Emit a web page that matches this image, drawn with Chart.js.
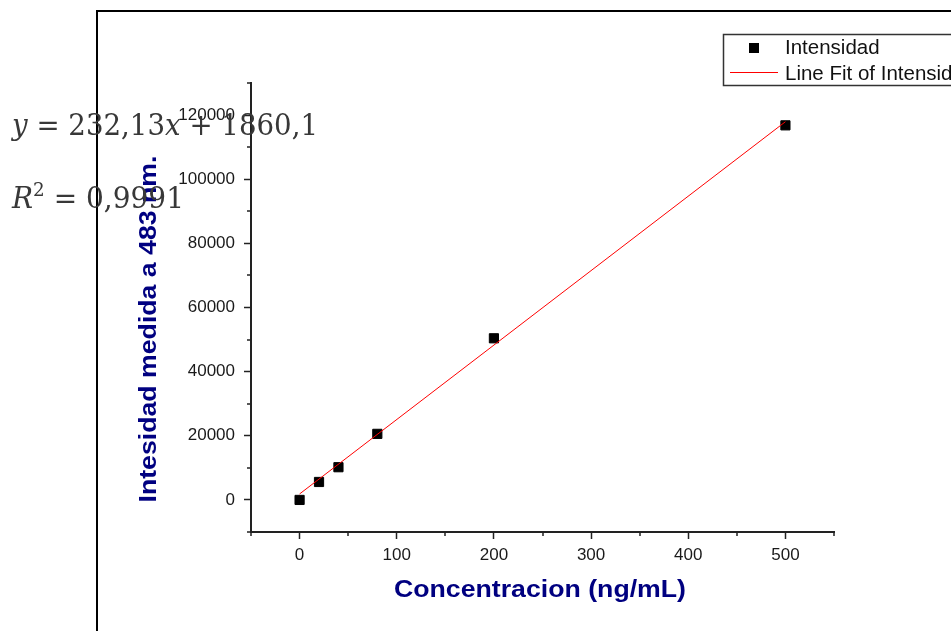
<!DOCTYPE html>
<html>
<head>
<meta charset="utf-8">
<script src="https://cdn.jsdelivr.net/npm/chart.js@4.4.1/dist/chart.umd.min.js"></script>
<style>
  body { margin: 0; background: #fff; }
  #wrap { width: 951px; height: 631px; }
</style>
</head>
<body>
<div id="wrap"><canvas id="curvaChart"></canvas></div>
<script>
// curva de calibracion
const concentracion = [0, 20, 40, 80, 200, 500];
const intensidad = [0, 5600, 10200, 20600, 50400, 116800];

// recta de ajuste (extremos)
const ajusteX = [0, 500];
const ajusteY = [1860, 117925];

const xTicks = [0, 100, 200, 300, 400, 500];
const xTickLabels = ["0", "100", "200", "300", "400", "500"];
const xMinor = [-50, 50, 150, 250, 350, 450, 550];

const yTicks = [0, 20000, 40000, 60000, 80000, 100000, 120000];
const yTickLabels = ["0", "20000", "40000", "60000", "80000", "100000", "120000"];
const yMinor = [-10000, 10000, 30000, 50000, 70000, 90000, 110000, 130000];

const xTitle = "Concentracion (ng/mL)";
const yTitle = "Intesidad medida a 483 nm.";
const legendLabels = ["Intensidad", "Line Fit of Intensidad"];

const ecuacion1 = [["y", "i"], [" = 232,13", "n"], ["x", "i"], [" + 1860,1", "n"]];
const ecuacion2 = [["R", "i"], ["2", "s"], [" = 0,9991", "n"]];

const sans = "'Liberation Sans', Arial, sans-serif";
const serif = "'DejaVu Serif', 'Liberation Serif', serif";

// marco, ticks menores, titulos, leyenda y ecuacion
const extras = {
  id: "extras",
  beforeDraw(chart) {
    const ctx = chart.ctx;
    ctx.save();
    ctx.strokeStyle = "#000";
    ctx.lineWidth = 2;
    ctx.beginPath();
    ctx.moveTo(97, 631);
    ctx.lineTo(97, 11);
    ctx.lineTo(951, 11);
    ctx.stroke();
    ctx.restore();
  },
  afterDraw(chart) {
    const ctx = chart.ctx;
    const xs = chart.scales.x;
    const ys = chart.scales.y;
    const area = chart.chartArea;

    ctx.save();
    ctx.strokeStyle = "#222";
    ctx.lineWidth = 1.5;
    ctx.beginPath();
    xMinor.forEach((v) => {
      const px = Math.round(xs.getPixelForValue(v));
      ctx.moveTo(px, area.bottom);
      ctx.lineTo(px, area.bottom + 4);
    });
    yMinor.forEach((v) => {
      const py = Math.round(ys.getPixelForValue(v));
      ctx.moveTo(area.left, py);
      ctx.lineTo(area.left - 4, py);
    });
    ctx.stroke();

    // titulos de ejes
    ctx.fillStyle = "#000080";
    ctx.font = "bold 23px " + sans;
    ctx.textAlign = "center";
    ctx.textBaseline = "alphabetic";
    ctx.save();
    ctx.translate(540, 597);
    ctx.scale(1.16, 1);
    ctx.fillText(xTitle, 0, 0);
    ctx.restore();
    ctx.save();
    ctx.translate(156, 329);
    ctx.rotate(-Math.PI / 2);
    ctx.scale(1.16, 1);
    ctx.fillText(yTitle, 0, 0);
    ctx.restore();

    // leyenda
    ctx.fillStyle = "#fff";
    ctx.fillRect(723, 34, 240, 51);
    ctx.strokeStyle = "#333";
    ctx.lineWidth = 1.5;
    ctx.strokeRect(723.5, 34.5, 240, 51);
    const ds = chart.data.datasets;
    ctx.fillStyle = ds[0].backgroundColor;
    ctx.fillRect(749, 43, 10, 10);
    ctx.strokeStyle = ds[1].borderColor;
    ctx.lineWidth = 1;
    ctx.beginPath();
    ctx.moveTo(730, 72.5);
    ctx.lineTo(778, 72.5);
    ctx.stroke();
    ctx.fillStyle = "#111";
    ctx.font = "20.5px " + sans;
    ctx.textAlign = "left";
    ctx.fillText(ds[0].label, 785, 54);
    ctx.fillText(ds[1].label, 785, 80);

    // ecuacion del ajuste
    const dibujarEcuacion = (partes, x0, base, ancho) => {
      const fuente = (t) =>
        t === "i" ? "italic 29px " + serif : t === "s" ? "19px " + serif : "29px " + serif;
      let total = 0;
      partes.forEach(([txt, t]) => {
        ctx.font = fuente(t);
        total += ctx.measureText(txt).width;
      });
      ctx.save();
      ctx.translate(x0, base);
      ctx.scale(ancho / total, 1);
      let cx = 0;
      partes.forEach(([txt, t]) => {
        ctx.font = fuente(t);
        ctx.fillText(txt, cx, t === "s" ? -12 : 0);
        cx += ctx.measureText(txt).width;
      });
      ctx.restore();
    };
    ctx.fillStyle = "#383838";
    dibujarEcuacion(ecuacion1, 12, 135, 306);
    dibujarEcuacion(ecuacion2, 12, 208, 172);
    ctx.restore();
  },
};

const curvaCtx = document.getElementById("curvaChart");

new Chart(curvaCtx, {
  type: "scatter",

  data: {
    datasets: [
      {
        label: legendLabels[0],
        data: concentracion.map((c, i) => ({ x: c, y: intensidad[i] })),
        backgroundColor: "#000",
        borderColor: "#000",
        borderWidth: 1,
        pointStyle: "rect",
        pointRadius: 6.5,
        order: 1,
      },
      {
        type: "line",
        label: legendLabels[1],
        data: ajusteX.map((c, i) => ({ x: c, y: ajusteY[i] })),
        borderColor: "#ff0000",
        borderWidth: 1,
        pointRadius: 0,
        fill: false,
        tension: 0,
        order: 0,
      },
    ],
  },

  options: {
    responsive: true,
    maintainAspectRatio: false,
    animation: false,
    layout: {
      padding: { left: 0, top: 83, right: 117, bottom: 0 },
    },

    plugins: {
      legend: { display: false },
      tooltip: { enabled: false },
    },

    scales: {
      x: {
        type: "linear",
        min: -50,
        max: 550,
        afterFit: (scale) => {
          scale.height = 99;
        },
        afterBuildTicks: (scale) => {
          scale.ticks = xTicks.map((v) => ({ value: v }));
        },
        border: { display: true, color: "#222", width: 2 },
        grid: {
          display: true,
          drawOnChartArea: false,
          drawTicks: true,
          tickLength: 7,
          tickColor: "#222",
          tickWidth: 1.5,
        },
        ticks: {
          padding: 6,
          color: "#1a1a1a",
          font: { family: sans, size: 17 },
          maxRotation: 0,
          callback: function (value, index) {
            return xTickLabels[index];
          },
        },
      },

      y: {
        type: "linear",
        min: -10000,
        max: 130000,
        afterFit: (scale) => {
          scale.width = 251;
        },
        afterBuildTicks: (scale) => {
          scale.ticks = yTicks.map((v) => ({ value: v }));
        },
        border: { display: true, color: "#222", width: 2 },
        grid: {
          display: true,
          drawOnChartArea: false,
          drawTicks: true,
          tickLength: 7,
          tickColor: "#222",
          tickWidth: 1.5,
        },
        ticks: {
          padding: 9,
          color: "#1a1a1a",
          font: { family: sans, size: 17 },
          callback: function (value, index) {
            return yTickLabels[index];
          },
        },
      },
    },
  },

  plugins: [extras],
});
</script>
</body>
</html>
